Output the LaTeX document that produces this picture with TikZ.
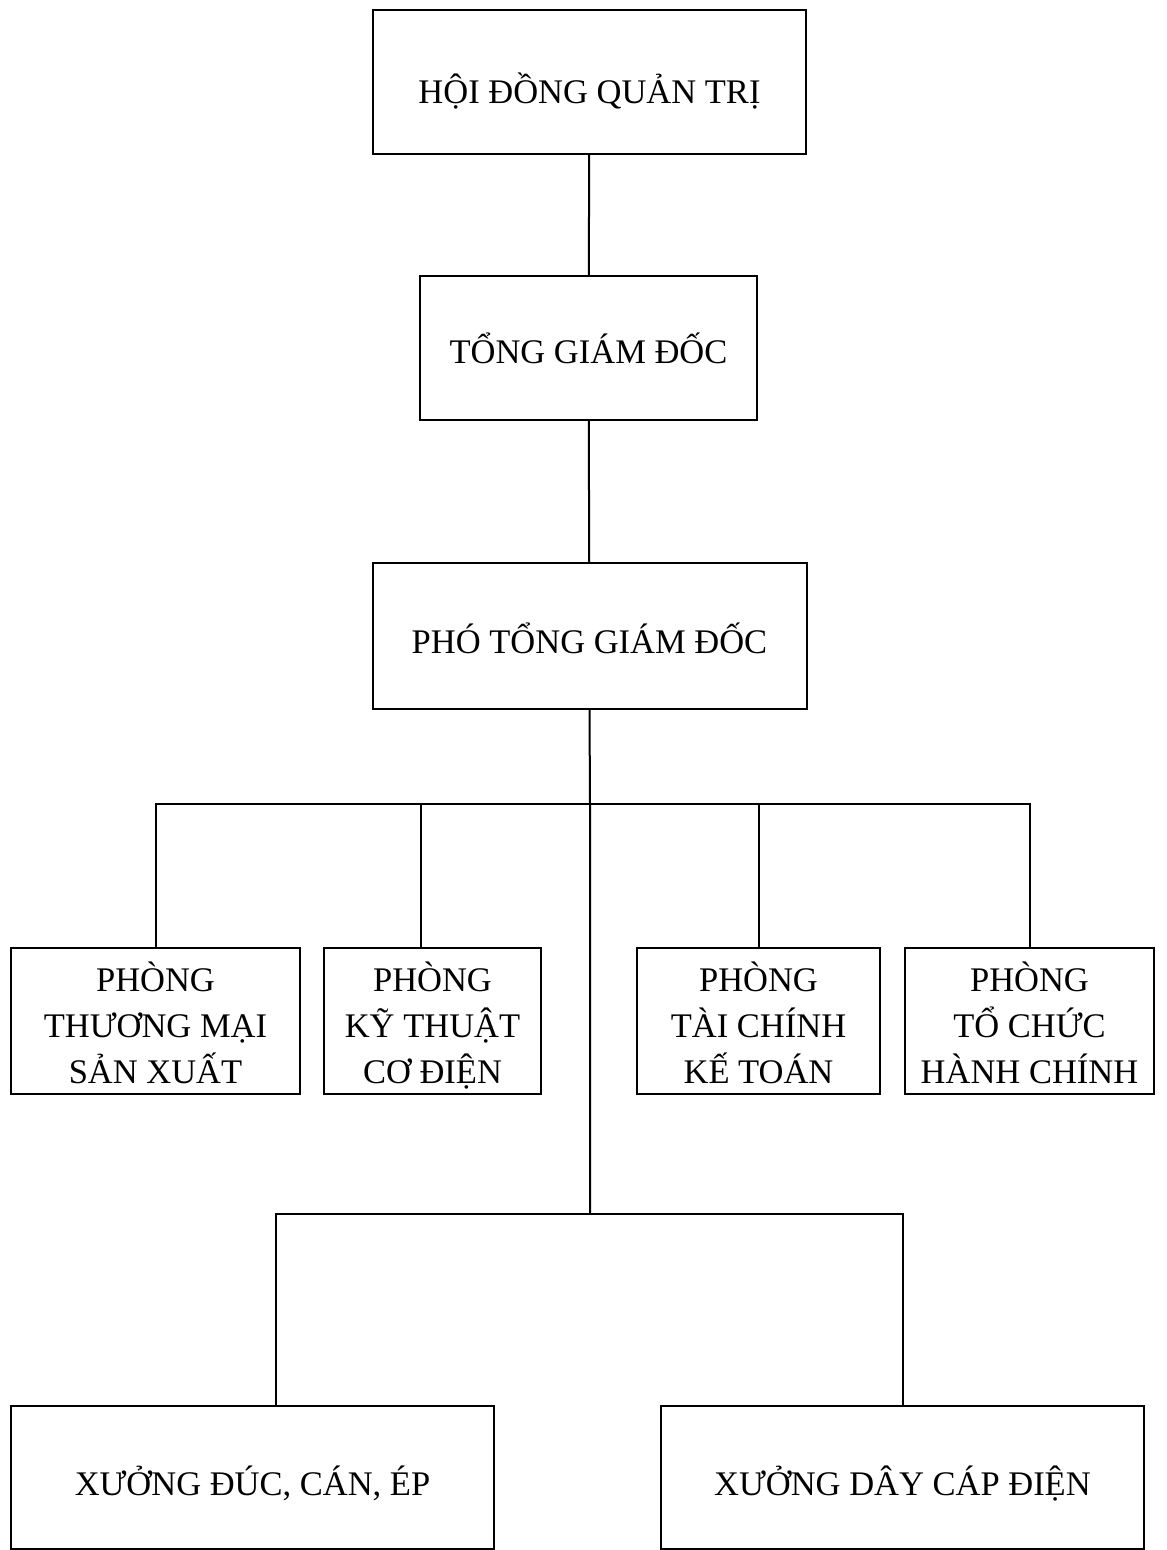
\documentclass[tikz,border=0pt]{standalone}
\usepackage{fontspec}
\setmainfont{Liberation Serif}
\begin{document}
\begin{tikzpicture}[x=1pt,y=-1pt,line width=2pt,
	hop/.style={draw,align=center,inner sep=0pt,text height=36pt,text depth=0pt,font=\fontsize{34.5}{46}\selectfont},
	hop3/.style={hop,text height=124pt}]
	\useasboundingbox (0,0) rectangle (1167,1550);
	\node[hop,text height=42pt,minimum width=433,minimum height=144] (hdqt) at (589.5,82) {HỘI ĐỒNG QUẢN TRỊ};
	\node[hop,text height=30pt,minimum width=337,minimum height=144] (tgd) at (588.5,348) {TỔNG GIÁM ĐỐC};
	\node[hop,text height=34pt,minimum width=434,minimum height=146] (ptgd) at (589.5,636) {PHÓ TỔNG GIÁM ĐỐC};
	% les phong
	\node[hop3,minimum width=289,minimum height=146] (p1) at (155.5,1021) {PHÒNG\\THƯƠNG MẠI\\SẢN XUẤT};
	\node[hop3,minimum width=217,minimum height=146] (p2) at (432.5,1021) {PHÒNG\\KỸ THUẬT\\CƠ ĐIỆN};
	\node[hop3,minimum width=243,minimum height=146] (p3) at (758.5,1021) {PHÒNG\\TÀI CHÍNH\\KẾ TOÁN};
	\node[hop3,minimum width=249,minimum height=146] (p4) at (1029.5,1021) {PHÒNG\\TỔ CHỨC\\HÀNH CHÍNH};
	% les xuong
	\node[hop,minimum width=483,minimum height=143] (x1) at (252.5,1477.5) {XƯỞNG ĐÚC, CÁN, ÉP};
	\node[hop,minimum width=483,minimum height=143] (x2) at (902.5,1477.5) {XƯỞNG DÂY CÁP ĐIỆN};
	\coordinate (bus) at (590,804);
	\coordinate (b2) at (421,804);
	\coordinate (fork) at (590,1214);
	\coordinate (f1) at (276,1214);
	\draw (hdqt) -- (tgd);
	\draw (tgd) -- (ptgd);
	\draw (ptgd.south) -- (bus) -- (fork);
	\draw (p1.north) |- (bus) -| (p4.north);
	\draw (b2) -- (b2 |- p2.north);
	\draw (p3.north) |- (bus);
	\draw (f1 |- x1.north) -- (f1) -| (x2.north);
\end{tikzpicture}
\end{document}
